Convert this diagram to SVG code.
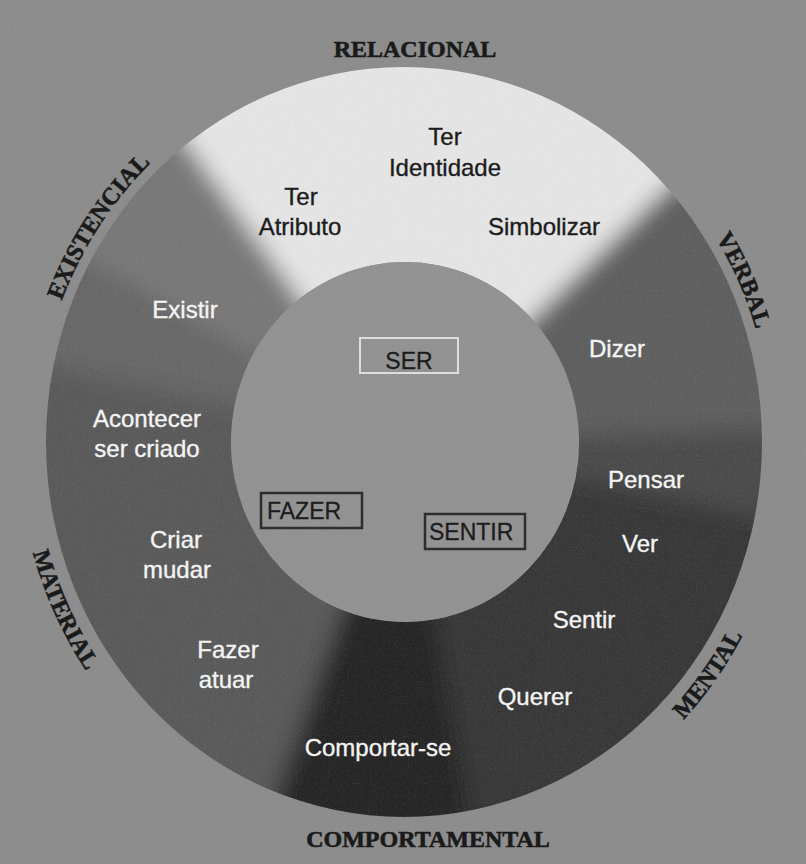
<svg xmlns="http://www.w3.org/2000/svg" width="806" height="864" viewBox="0 0 806 864">
  <defs>
    <style>
      .outer { font-family: "Liberation Serif", "Times New Roman", serif; font-weight: bold; font-size: 24px; fill: #1a1a1a; stroke: #1a1a1a; stroke-width: 0.6px; }
      .w { font-family: "Liberation Sans", Arial, sans-serif; font-size: 24px; fill: #f4f4f4; stroke: #f4f4f4; stroke-width: 0.35px; text-anchor: middle; }
      .d { font-family: "Liberation Sans", Arial, sans-serif; font-size: 24px; fill: #1c1c1c; stroke: #1c1c1c; stroke-width: 0.35px; text-anchor: middle; }
      .box { font-family: "Liberation Sans", Arial, sans-serif; font-size: 23px; fill: #1c1c1c; stroke: #1c1c1c; stroke-width: 0.3px; }
    </style>
    <clipPath id="ringClip">
      <path clip-rule="evenodd" d="M46 442 A358 375 0 1 0 762 442 A358 375 0 1 0 46 442 Z M231 442 A174 180 0 1 0 579 442 A174 180 0 1 0 231 442 Z"/>
    </clipPath>
    <filter id="soft" x="-20%" y="-20%" width="140%" height="140%">
      <feGaussianBlur stdDeviation="11"/>
    </filter>
    <filter id="noise" x="0" y="0" width="100%" height="100%">
      <feTurbulence type="fractalNoise" baseFrequency="0.85" numOctaves="2" seed="3"/>
      <feColorMatrix type="matrix" values="0 0 0 0 0.5  0 0 0 0 0.5  0 0 0 0 0.5  0.6 0.6 0.6 0 -0.9"/>
    </filter>
    <path id="topArc" d="M36 442 A368 385 0 0 1 772 442"/>
    <path id="botArc" d="M18 442 A386 403 0 0 0 790 442"/>
  </defs>

  <rect x="0" y="0" width="806" height="864" fill="#8c8c8c"/>

  <g id="ring" clip-path="url(#ringClip)">
    <g filter="url(#soft)">
      <rect x="-100" y="-100" width="1006" height="1064" fill="#4a4a4a"/>
      <polygon points="404,442 110,38 448,-56 764,95" fill="#e5e5e5"/>
      <polygon points="404,442 764,95 904,425" fill="#5f5f5f"/>
      <polygon points="404,442 904,425 893,546" fill="#4b4b4b"/>
      <polygon points="404,442 893,546 751,802 491,934" fill="#383838"/>
      <polygon points="404,442 491,934 233,912" fill="#252525"/>
      <polygon points="404,442 233,912 -33,684 -85,338" fill="#5a5a5a"/>
      <polygon points="404,442 -85,338 -29,192" fill="#686868"/>
      <polygon points="404,442 -29,192 110,38" fill="#787878"/>
    </g>
  </g>

  <ellipse id="core" cx="405" cy="442" rx="174" ry="180" fill="#929292"/>

  <rect x="0" y="0" width="806" height="864" filter="url(#noise)" opacity="0.35"/>

  <g id="relacional">
    <text class="outer" x="415" y="57" text-anchor="middle">RELACIONAL</text>
    <text class="d" x="445" y="145">Ter</text>
    <text class="d" x="445" y="176">Identidade</text>
    <text class="d" x="301" y="205">Ter</text>
    <text class="d" x="300" y="235">Atributo</text>
    <text class="d" x="544" y="235">Simbolizar</text>
  </g>

  <g id="existencial">
    <text class="outer" text-anchor="middle"><textPath href="#topArc" startOffset="19.2%">EXISTENCIAL</textPath></text>
    <text class="w" x="185" y="318">Existir</text>
  </g>

  <g id="verbal">
    <text class="outer" text-anchor="middle"><textPath href="#topArc" startOffset="86.1%">VERBAL</textPath></text>
    <text class="w" x="617" y="357">Dizer</text>
  </g>

  <g id="material">
    <text class="outer" text-anchor="middle"><textPath href="#botArc" startOffset="14.3%">MATERIAL</textPath></text>
    <text class="w" x="147" y="427">Acontecer</text>
    <text class="w" x="147" y="457">ser criado</text>
    <text class="w" x="176" y="548">Criar</text>
    <text class="w" x="177" y="578">mudar</text>
    <text class="w" x="228" y="658">Fazer</text>
    <text class="w" x="226" y="688">atuar</text>
  </g>

  <g id="comportamental">
    <text class="outer" x="428" y="847" text-anchor="middle">COMPORTAMENTAL</text>
    <text class="w" x="378" y="756">Comportar-se</text>
  </g>

  <g id="mental">
    <text class="outer" text-anchor="middle"><textPath href="#botArc" startOffset="79.6%">MENTAL</textPath></text>
    <text class="w" x="646" y="488">Pensar</text>
    <text class="w" x="640" y="552">Ver</text>
    <text class="w" x="584" y="628">Sentir</text>
    <text class="w" x="535" y="705">Querer</text>
  </g>

  <g id="ser">
    <rect x="360" y="338" width="98" height="35" fill="none" stroke="#dedede" stroke-width="2"/>
    <text class="box" x="409" y="369" text-anchor="middle">SER</text>
  </g>
  <g id="fazer">
    <rect x="261" y="493" width="101" height="35" fill="none" stroke="#2e2e2e" stroke-width="2.5"/>
    <text class="box" x="267" y="519">FAZER</text>
  </g>
  <g id="sentir">
    <rect x="425" y="514" width="100" height="35" fill="none" stroke="#2e2e2e" stroke-width="2.5"/>
    <text class="box" x="429" y="540">SENTIR</text>
  </g>

  <g id="connectors"></g>
</svg>
